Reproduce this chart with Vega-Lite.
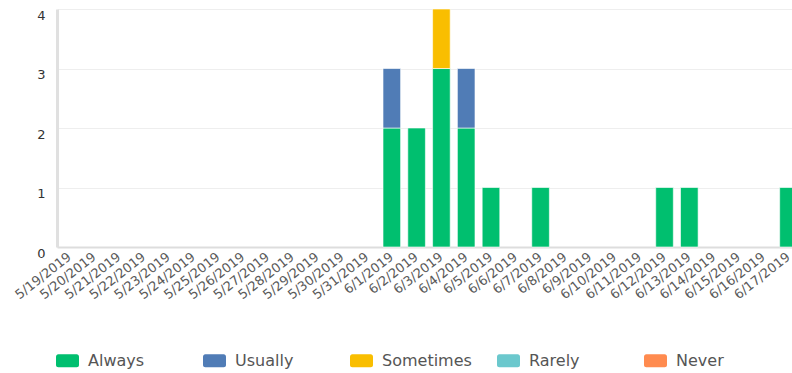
{
  "$schema": "https://vega.github.io/schema/vega-lite/v6.json",
  "autosize": {"type": "none"},
  "padding": {"left": 57, "top": 9, "right": 0, "bottom": 126},
  "width": 744,
  "height": 238,
  "background": "#ffffff",
  "config": {
    "view": {"stroke": null},
    "font": "DejaVu Sans"
  },
  "data": {
    "values": [
      {"date": "6/1/2019", "response": "Always", "count": 2},
      {"date": "6/1/2019", "response": "Usually", "count": 1},
      {"date": "6/2/2019", "response": "Always", "count": 2},
      {"date": "6/3/2019", "response": "Always", "count": 3},
      {"date": "6/3/2019", "response": "Sometimes", "count": 1},
      {"date": "6/4/2019", "response": "Always", "count": 2},
      {"date": "6/4/2019", "response": "Usually", "count": 1},
      {"date": "6/5/2019", "response": "Always", "count": 1},
      {"date": "6/7/2019", "response": "Always", "count": 1},
      {"date": "6/12/2019", "response": "Always", "count": 1},
      {"date": "6/13/2019", "response": "Always", "count": 1},
      {"date": "6/17/2019", "response": "Always", "count": 1}
    ]
  },
  "mark": {"type": "bar", "stroke": "#ffffff", "strokeWidth": 1, "strokeOpacity": 0.6},
  "encoding": {
    "x": {
      "field": "date",
      "type": "nominal",
      "scale": {
        "domain": ["5/19/2019", "5/20/2019", "5/21/2019", "5/22/2019", "5/23/2019", "5/24/2019", "5/25/2019", "5/26/2019", "5/27/2019", "5/28/2019", "5/29/2019", "5/30/2019", "5/31/2019", "6/1/2019", "6/2/2019", "6/3/2019", "6/4/2019", "6/5/2019", "6/6/2019", "6/7/2019", "6/8/2019", "6/9/2019", "6/10/2019", "6/11/2019", "6/12/2019", "6/13/2019", "6/14/2019", "6/15/2019", "6/16/2019", "6/17/2019"],
        "paddingInner": 0.29,
        "paddingOuter": 0.15
      },
      "axis": {
        "title": null,
        "labelAngle": -38,
        "labelAlign": "right",
        "labelBaseline": "middle",
        "labelFontSize": 13,
        "labelColor": "#5a5a5a",
        "labelPadding": 8,
        "labelOverlap": false,
        "ticks": false,
        "domainColor": "#dddddd",
        "domainWidth": 2,
        "grid": false
      }
    },
    "y": {
      "field": "count",
      "type": "quantitative",
      "aggregate": "sum",
      "stack": "zero",
      "scale": {"domain": [0, 4], "nice": false},
      "axis": {
        "title": null,
        "values": [0, 1, 2, 3, 4],
        "format": "d",
        "labelBaseline": "top",
        "labelFontSize": 13,
        "labelFontWeight": "normal",
        "labelColor": "#333333",
        "labelPadding": 12,
        "ticks": false,
        "domainColor": "#e0e0e0",
        "domainWidth": 3,
        "gridColor": "#eeeeee",
        "gridWidth": 1
      }
    },
    "order": {"field": "response", "type": "nominal", "sort": "ascending"},
    "color": {
      "field": "response",
      "type": "nominal",
      "scale": {
        "domain": ["Always", "Usually", "Sometimes", "Rarely", "Never"],
        "range": ["#00bf6f", "#507cb6", "#f9be00", "#6bc8cd", "#ff8b4f"]
      },
      "legend": {
        "title": null,
        "orient": "none",
        "direction": "horizontal",
        "columns": 5,
        "legendX": -1,
        "legendY": 340,
        "gridAlign": "all",
        "columnPadding": 24,
        "symbolType": "M-0.8,-0.56 H0.8 A0.2,0.2 0 0 1 1,-0.36 V0.36 A0.2,0.2 0 0 1 0.8,0.56 H-0.8 A0.2,0.2 0 0 1 -1,0.36 V-0.36 A0.2,0.2 0 0 1 -0.8,-0.56 Z",
        "symbolSize": 529,
        "symbolStrokeWidth": 0,
        "symbolOpacity": 1,
        "labelFontSize": 16,
        "labelColor": "#555555",
        "labelOffset": 9,
        "padding": 0
      }
    }
  }
}
